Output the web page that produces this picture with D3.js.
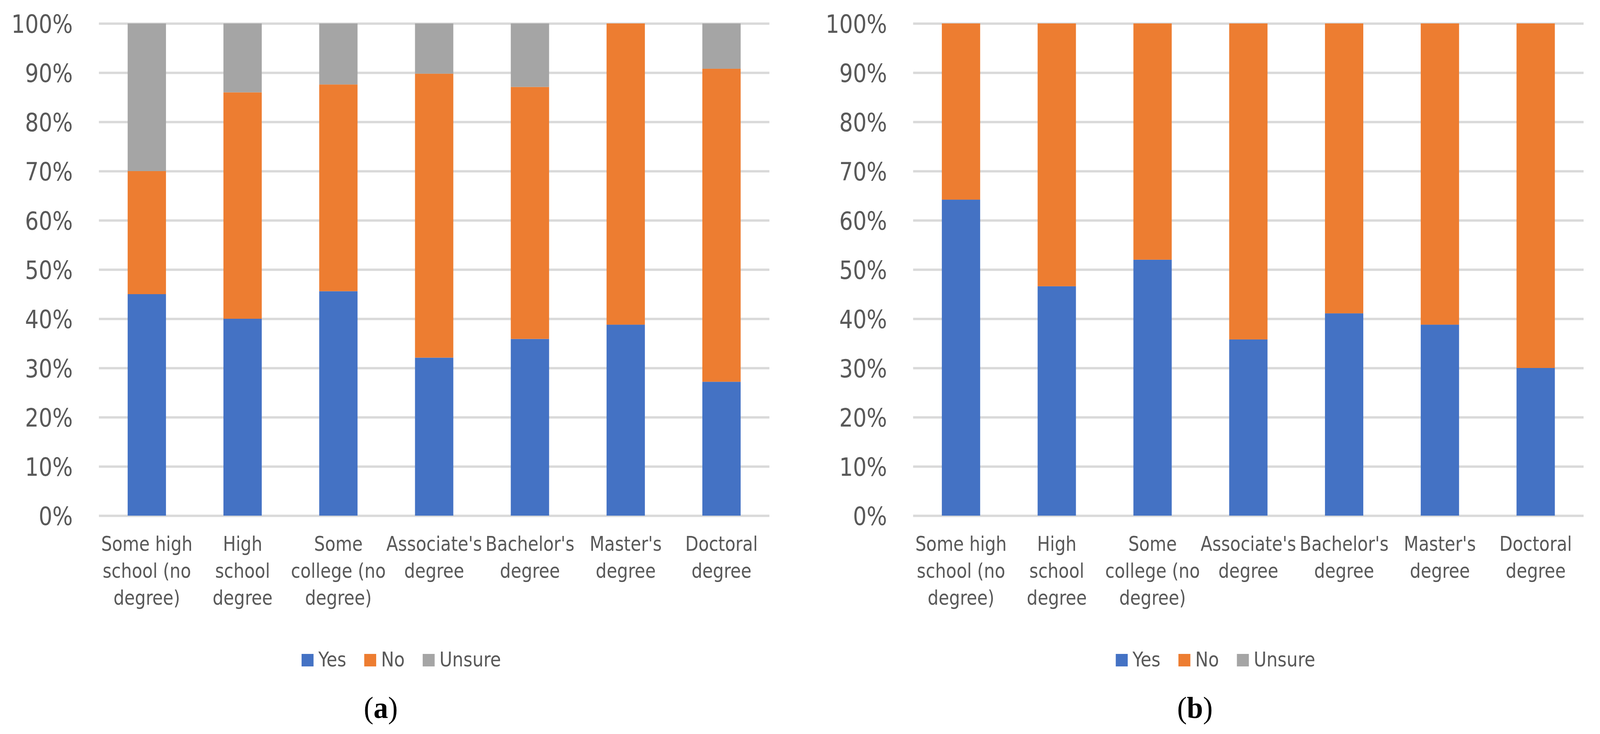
<!DOCTYPE html>
<html>
<head>
<meta charset="utf-8">
<script src="https://cdn.jsdelivr.net/npm/d3@7"></script>
<style>
  html, body { margin: 0; padding: 0; background: #fff; overflow: hidden; }
  #chart svg { display: block; width: 100vw; height: 100vh; }
  svg text { font-family: "DejaVu Sans Condensed", "Liberation Sans Narrow", sans-serif; fill: #595959; }
</style>
</head>
<body>
<div id="chart"></div>
<script>
// categories and the wrapped tick labels as shown under each bar
var categories = ["Some high school (no degree)", "High school degree", "Some college (no degree)",
  "Associate's degree", "Bachelor's degree", "Master's degree", "Doctoral degree"];
var tickLabels = [["Some high", "school (no", "degree)"], ["High", "school", "degree"],
  ["Some", "college (no", "degree)"], ["Associate's", "degree"], ["Bachelor's", "degree"],
  ["Master's", "degree"], ["Doctoral", "degree"]];
var seriesNames = ["Yes", "No", "Unsure"];
var yTicks = [0, 10, 20, 30, 40, 50, 60, 70, 80, 90, 100];

// panel (a)
var yesA = [45.0, 40.0, 45.6, 32.1, 35.9, 38.8, 27.2];
var noA = [25.0, 46.0, 42.0, 57.7, 51.2, 61.2, 63.6];
var unsureA = [30.0, 14.0, 12.4, 10.2, 12.9, 0.0, 9.2];

// panel (b)
var yesB = [64.2, 46.6, 52.0, 35.8, 41.1, 38.8, 30.0];
var noB = [35.8, 53.4, 48.0, 64.2, 58.9, 61.2, 70.0];
var unsureB = [0, 0, 0, 0, 0, 0, 0];

var colors = ["#4472C4", "#ED7D31", "#A5A5A5"];

var W = 4286, H = 1879;
// viewBox stretched to the real window so the layout fills it
var svg = d3.select("#chart").append("svg")
    .attr("viewBox", "0 0 " + W + " " + H)
    .attr("preserveAspectRatio", "none");
svg.append("rect").attr("width", W).attr("height", H).attr("fill", "#fff");

function drawPanel(offsetX, yes, no, unsure, caption) {
  var g = svg.append("g").attr("transform", "translate(" + offsetX + ",0)");
  var left = 265, right = 2061, top = 60, bottom = 1320;

  var x = d3.scaleBand()
      .domain(categories)
      .range([left, right])
      .paddingInner(0.6)
      .paddingOuter(0.3);
  var y = d3.scaleLinear().domain([0, 100]).range([bottom, top]);

  // gridlines + y labels
  var yAxis = g.append("g")
      .attr("transform", "translate(" + left + ",0)")
      .call(d3.axisLeft(y).tickValues(yTicks).tickSize(-(right - left)).tickPadding(70)
        .tickFormat(function(d) { return d + "%"; }));
  yAxis.select(".domain").remove();
  yAxis.selectAll("line").attr("stroke", "#D9D9D9").attr("stroke-width", 6);
  yAxis.selectAll("text").attr("font-size", 64).attr("dy", "0.36em");

  // stacked bars
  var rows = categories.map(function(c, i) {
    return { cat: c, Yes: yes[i], No: no[i], Unsure: unsure[i] };
  });
  var stacked = d3.stack().keys(seriesNames)(rows);

  g.selectAll("g.series")
    .data(stacked)
    .enter()
      .append("g")
      .attr("class", "series")
      .attr("fill", function(d, i) { return colors[i]; })
    .selectAll("rect")
    .data(function(d) { return d; })
    .enter()
      .append("rect")
      .attr("x", function(d) { return x(d.data.cat); })
      .attr("width", x.bandwidth())
      .attr("y", function(d) { return y(d[1]); })
      .attr("height", function(d) { return y(d[0]) - y(d[1]); });

  // category labels, several lines each
  var xAxis = g.append("g")
      .attr("transform", "translate(0," + bottom + ")")
      .call(d3.axisBottom(x).tickSize(0).tickFormat(""));
  xAxis.select(".domain").remove();
  xAxis.selectAll(".tick").each(function(d, i) {
    var t = d3.select(this).append("text")
        .attr("text-anchor", "middle")
        .attr("font-size", 51)
        .attr("y", 90);
    tickLabels[i].forEach(function(line, j) {
      t.append("tspan").attr("x", 0).attr("dy", j === 0 ? 0 : 69).text(line);
    });
  });

  // legend centred under the chart
  var leg = g.append("g");
  var cx = 0;
  seriesNames.forEach(function(name, i) {
    var item = leg.append("g").attr("transform", "translate(" + cx + ",0)");
    item.append("rect").attr("x", 0).attr("y", 1674).attr("width", 32).attr("height", 32)
        .attr("fill", colors[i]);
    var txt = item.append("text").attr("x", 45).attr("y", 1706).attr("font-size", 52).text(name);
    cx += 45 + txt.node().getComputedTextLength() + 48;
  });
  var legW = cx - 48;
  leg.attr("transform", "translate(" + (1075 - legW / 2) + ",0)");

  // caption
  var cap = g.append("text")
      .attr("x", 1020)
      .attr("y", 1838)
      .attr("text-anchor", "middle")
      .attr("font-size", 78)
      .style("font-family", "'Liberation Serif', 'Times New Roman', serif")
      .style("fill", "#000");
  cap.append("tspan").text("(");
  cap.append("tspan").attr("font-weight", "bold").text(caption);
  cap.append("tspan").text(")");
}

drawPanel(0, yesA, noA, unsureA, "a");
drawPanel(2181, yesB, noB, unsureB, "b");
</script>
</body>
</html>
